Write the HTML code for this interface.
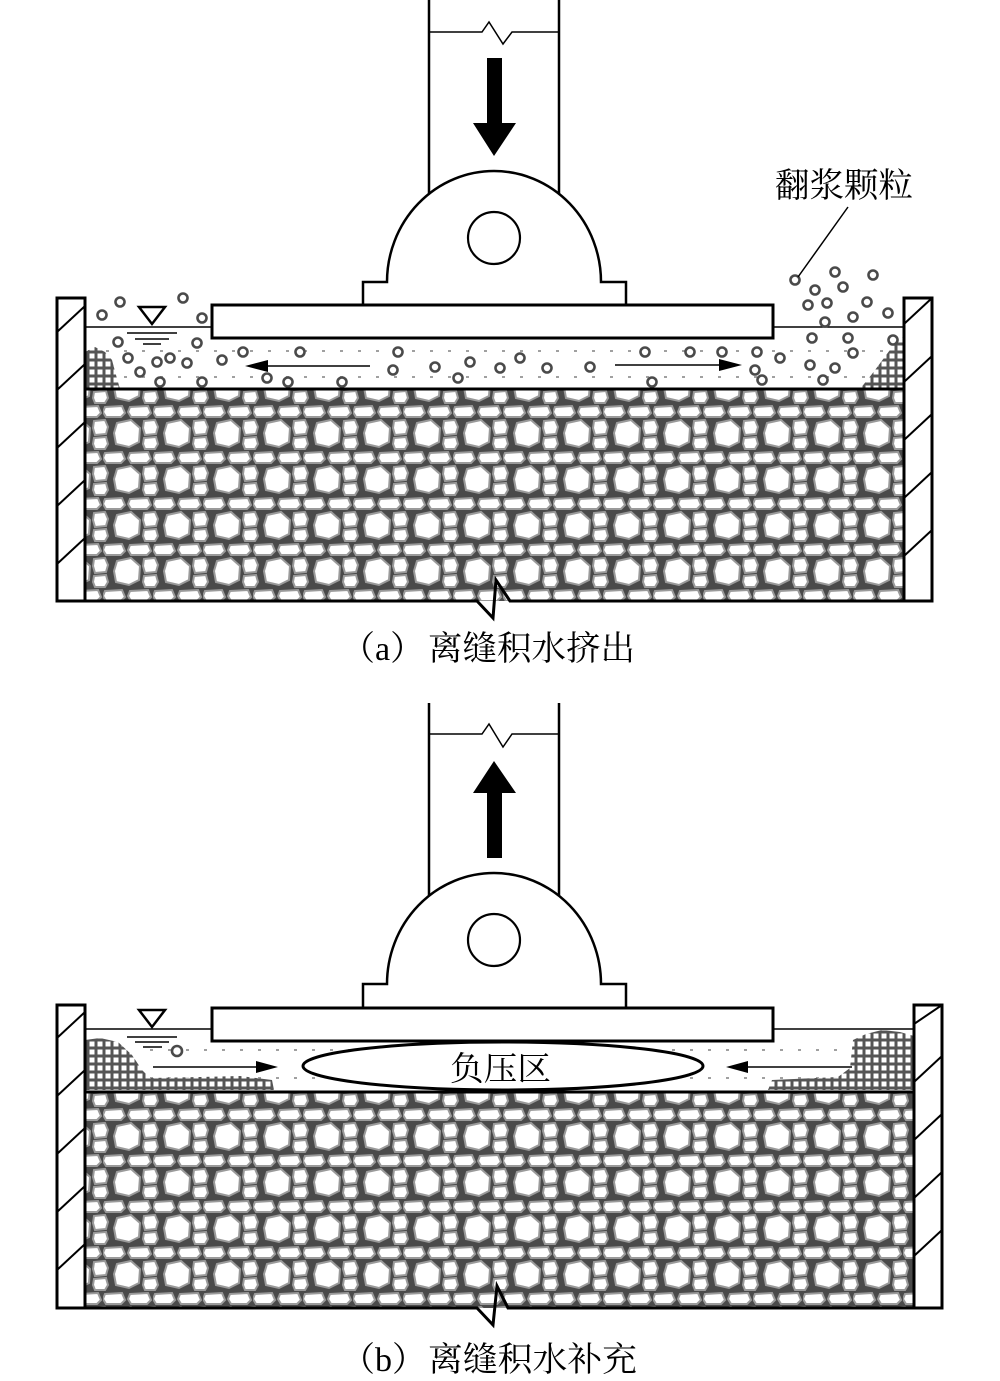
<!DOCTYPE html>
<html><head><meta charset="utf-8"><style>
html,body{margin:0;padding:0;background:#fff;}
svg{display:block;}
</style></head><body>
<svg width="1000" height="1381" viewBox="0 0 1000 1381" xmlns="http://www.w3.org/2000/svg">
<defs>
<pattern id="gra" x="103" y="409" width="50" height="46" patternUnits="userSpaceOnUse">
 <rect width="50" height="46" fill="#4a4a4a"/>
 <g fill="#fff" stroke="#9a9a9a" stroke-width="2">
  <path d="M14,14 L28,11 L37,19 L36,33 L26,38 L13,35 L11,24 Z"/>
  <path d="M2,-2 L19,-3 L22,4 L18,8 L3,8 L0,3 Z"/>
  <path d="M27,-2 L45,-3 L48,4 L44,8 L28,8 L25,3 Z"/>
  <path d="M2,44 L19,43 L22,50 L18,54 L3,54 L0,49 Z"/>
  <path d="M27,44 L45,43 L48,50 L44,54 L28,54 L25,49 Z"/>
  <path d="M41,12 L52,11 L55,18 L53,25 L42,26 L40,19 Z"/>
  <path d="M-9,12 L2,11 L5,18 L3,25 L-8,26 L-10,19 Z"/>
  <path d="M41,29 L53,28 L55,35 L52,40 L42,40 L40,35 Z"/>
  <path d="M-9,29 L3,28 L5,35 L2,40 L-8,40 L-10,35 Z"/>
 </g>
</pattern>
<pattern id="grb" x="103" y="1112" width="50" height="46" patternUnits="userSpaceOnUse">
 <rect width="50" height="46" fill="#4a4a4a"/>
 <g fill="#fff" stroke="#9a9a9a" stroke-width="2">
  <path d="M14,14 L28,11 L37,19 L36,33 L26,38 L13,35 L11,24 Z"/>
  <path d="M2,-2 L19,-3 L22,4 L18,8 L3,8 L0,3 Z"/>
  <path d="M27,-2 L45,-3 L48,4 L44,8 L28,8 L25,3 Z"/>
  <path d="M2,44 L19,43 L22,50 L18,54 L3,54 L0,49 Z"/>
  <path d="M27,44 L45,43 L48,50 L44,54 L28,54 L25,49 Z"/>
  <path d="M41,12 L52,11 L55,18 L53,25 L42,26 L40,19 Z"/>
  <path d="M-9,12 L2,11 L5,18 L3,25 L-8,26 L-10,19 Z"/>
  <path d="M41,29 L53,28 L55,35 L52,40 L42,40 L40,35 Z"/>
  <path d="M-9,29 L3,28 L5,35 L2,40 L-8,40 L-10,35 Z"/>
 </g>
</pattern>
<pattern id="pile" x="0" y="0" width="8" height="8" patternUnits="userSpaceOnUse">
 <rect width="8" height="8" fill="#555"/>
 <rect x="1.5" y="1.5" width="5" height="5" fill="#fff"/>
</pattern>
<clipPath id="cwl"><rect x="57" y="298" width="28" height="303"/></clipPath>
<clipPath id="cwr"><rect x="904" y="298" width="28" height="303"/></clipPath>
<clipPath id="cwlb"><rect x="57" y="1005" width="28" height="303"/></clipPath>
<clipPath id="cwrb"><rect x="914" y="1005" width="28" height="303"/></clipPath>
</defs>

<!-- ================= (a) ================= -->
<g stroke="#000" fill="none">
 <line x1="429" y1="0" x2="429" y2="197" stroke-width="2.5"/>
 <line x1="559" y1="0" x2="559" y2="197" stroke-width="2.5"/>
 <polyline points="430,32 482,32 489,22 503,44 512,32 558,32" stroke-width="1.5"/>
</g>
<polygon points="487,58 502,58 502,123 516,123 494,156 473,123 487,123" fill="#000"/>
<path d="M363,305 L363,282 L387,282 A107,111 0 1 1 601,282 L626,282 L626,305" fill="#fff" stroke="#000" stroke-width="2.5"/>
<circle cx="494" cy="238" r="26" fill="#fff" stroke="#000" stroke-width="2.2"/>
<rect x="212" y="305" width="561" height="33" fill="#fff" stroke="#000" stroke-width="3"/>
<line x1="85" y1="327" x2="212" y2="327" stroke="#000" stroke-width="1.5"/>
<line x1="773" y1="327" x2="904" y2="327" stroke="#000" stroke-width="1.5"/>
<polygon points="139,307 165,307 152,324" fill="#fff" stroke="#000" stroke-width="2.5"/>
<g stroke="#000" stroke-width="1.5">
 <line x1="127" y1="333" x2="177" y2="333"/>
 <line x1="135" y1="339" x2="169" y2="339"/>
 <line x1="143" y1="344" x2="161" y2="344"/>
</g>
<g stroke="#a0a0a0" stroke-width="2" stroke-dasharray="3 15">
 <line x1="88" y1="351" x2="904" y2="351"/>
 <line x1="88" y1="377" x2="904" y2="377"/>
</g>
<path d="M85,352 L95,347 L105,352 L112,360 L116,375 L120,389 L85,389 Z" fill="url(#pile)"/>
<path d="M860,389 L872,374 L884,358 L895,343 L904,336 L904,389 Z" fill="url(#pile)"/>
<g fill="#fff" stroke="#4a4a4a" stroke-width="2.6">
 <circle cx="120" cy="302" r="4.5"/><circle cx="183" cy="298" r="4.5"/><circle cx="102" cy="315" r="4.5"/><circle cx="202" cy="318" r="4.5"/>
 <circle cx="118" cy="342" r="4.5"/><circle cx="197" cy="343" r="4.5"/><circle cx="128" cy="358" r="4.5"/><circle cx="157" cy="362" r="4.5"/>
 <circle cx="170" cy="358" r="4.5"/><circle cx="187" cy="363" r="4.5"/><circle cx="222" cy="360" r="4.5"/><circle cx="243" cy="352" r="4.5"/>
 <circle cx="300" cy="352" r="4.5"/><circle cx="202" cy="382" r="4.5"/><circle cx="160" cy="382" r="4.5"/><circle cx="267" cy="378" r="4.5"/>
 <circle cx="288" cy="382" r="4.5"/><circle cx="342" cy="382" r="4.5"/><circle cx="140" cy="372" r="4.5"/>
 <circle cx="398" cy="352" r="4.5"/><circle cx="393" cy="370" r="4.5"/><circle cx="435" cy="367" r="4.5"/><circle cx="458" cy="378" r="4.5"/>
 <circle cx="470" cy="362" r="4.5"/><circle cx="500" cy="368" r="4.5"/><circle cx="520" cy="358" r="4.5"/><circle cx="547" cy="368" r="4.5"/>
 <circle cx="590" cy="367" r="4.5"/><circle cx="645" cy="352" r="4.5"/><circle cx="652" cy="382" r="4.5"/><circle cx="690" cy="352" r="4.5"/>
 <circle cx="795" cy="280" r="4.5"/><circle cx="835" cy="272" r="4.5"/><circle cx="873" cy="275" r="4.5"/><circle cx="815" cy="290" r="4.5"/>
 <circle cx="843" cy="287" r="4.5"/><circle cx="827" cy="303" r="4.5"/><circle cx="808" cy="305" r="4.5"/><circle cx="867" cy="302" r="4.5"/>
 <circle cx="888" cy="313" r="4.5"/><circle cx="853" cy="317" r="4.5"/><circle cx="825" cy="322" r="4.5"/>
 <circle cx="812" cy="338" r="4.5"/><circle cx="848" cy="338" r="4.5"/><circle cx="893" cy="340" r="4.5"/><circle cx="853" cy="353" r="4.5"/>
 <circle cx="780" cy="358" r="4.5"/><circle cx="757" cy="352" r="4.5"/><circle cx="722" cy="352" r="4.5"/><circle cx="810" cy="365" r="4.5"/>
 <circle cx="835" cy="368" r="4.5"/><circle cx="755" cy="370" r="4.5"/><circle cx="762" cy="380" r="4.5"/><circle cx="823" cy="380" r="4.5"/>
</g>
<g stroke="#000" stroke-width="1.5">
 <line x1="266" y1="366" x2="370" y2="366"/>
 <line x1="615" y1="365" x2="720" y2="365"/>
</g>
<polygon points="245,366 268,360 268,372" fill="#000"/>
<polygon points="742,365 719,359 719,371" fill="#000"/>
<rect x="85" y="389" width="819" height="212" fill="url(#gra)"/>
<line x1="85" y1="389" x2="904" y2="389" stroke="#000" stroke-width="3"/>
<rect x="57" y="298" width="28" height="303" fill="#fff" stroke="#000" stroke-width="3"/>
<rect x="904" y="298" width="28" height="303" fill="#fff" stroke="#000" stroke-width="3"/>
<g stroke="#000" stroke-width="2" clip-path="url(#cwl)">
 <line x1="57" y1="332" x2="85" y2="306"/><line x1="57" y1="390" x2="85" y2="364"/>
 <line x1="57" y1="448" x2="85" y2="422"/><line x1="57" y1="506" x2="85" y2="480"/>
 <line x1="57" y1="564" x2="85" y2="538"/>
</g>
<g stroke="#000" stroke-width="2" clip-path="url(#cwr)">
 <line x1="904" y1="324" x2="932" y2="298"/><line x1="904" y1="382" x2="932" y2="356"/>
 <line x1="904" y1="440" x2="932" y2="414"/><line x1="904" y1="498" x2="932" y2="472"/>
 <line x1="904" y1="556" x2="932" y2="530"/>
</g>
<polygon points="477,602 493,618 495,602" fill="#fff"/>
<polyline points="57,601 477,601 493,618 496,580 510,601 932,601" fill="none" stroke="#000" stroke-width="3"/>
<line x1="848" y1="207" x2="798" y2="277" stroke="#000" stroke-width="1.5"/>
<text x="775" y="197" font-family="'Liberation Serif','Noto Serif CJK SC',serif" font-size="34" textLength="138" lengthAdjust="spacingAndGlyphs">翻浆颗粒</text>
<text x="341" y="660" font-family="'Liberation Serif','Noto Serif CJK SC',serif" font-size="34">（a）</text>
<text x="428" y="660" font-family="'Liberation Serif','Noto Serif CJK SC',serif" font-size="34" textLength="207" lengthAdjust="spacingAndGlyphs">离缝积水挤出</text>

<!-- ================= (b) ================= -->
<g stroke="#000" fill="none">
 <line x1="429" y1="703" x2="429" y2="899" stroke-width="2.5"/>
 <line x1="559" y1="703" x2="559" y2="899" stroke-width="2.5"/>
 <polyline points="430,734 482,734 489,724 503,747 512,734 558,734" stroke-width="1.5"/>
</g>
<polygon points="494,761 516,793 502,793 502,858 487,858 487,793 473,793" fill="#000"/>
<path d="M363,1007 L363,984 L387,984 A107,111 0 1 1 601,984 L626,984 L626,1007" fill="#fff" stroke="#000" stroke-width="2.5"/>
<circle cx="494" cy="940" r="26" fill="#fff" stroke="#000" stroke-width="2.2"/>
<rect x="212" y="1008" width="561" height="33" fill="#fff" stroke="#000" stroke-width="3"/>
<line x1="85" y1="1029" x2="212" y2="1029" stroke="#000" stroke-width="1.5"/>
<line x1="773" y1="1029" x2="914" y2="1029" stroke="#000" stroke-width="1.5"/>
<polygon points="139,1010 165,1010 152,1027" fill="#fff" stroke="#000" stroke-width="2.5"/>
<g stroke="#000" stroke-width="1.5">
 <line x1="127" y1="1037" x2="177" y2="1037"/>
 <line x1="135" y1="1042" x2="169" y2="1042"/>
 <line x1="143" y1="1047" x2="162" y2="1047"/>
</g>
<g stroke="#a0a0a0" stroke-width="2" stroke-dasharray="3 15">
 <line x1="150" y1="1050" x2="860" y2="1050"/>
 <line x1="150" y1="1078" x2="860" y2="1078"/>
</g>
<path d="M85,1040 L100,1038 L118,1042 L132,1055 L142,1070 L150,1078 L200,1077 L240,1076 L272,1080 L274,1090 L85,1090 Z" fill="url(#pile)"/>
<path d="M853,1040 L866,1034 L882,1030 L900,1032 L914,1036 L914,1090 L768,1090 L772,1080 L838,1077 L850,1068 Z" fill="url(#pile)"/>
<g fill="#fff" stroke="#4a4a4a" stroke-width="2.6">
 <circle cx="177" cy="1051" r="5"/>
</g>
<ellipse cx="503" cy="1066" rx="200" ry="24" fill="#fff" stroke="#000" stroke-width="3"/>
<text x="450" y="1080" font-family="'Liberation Serif','Noto Serif CJK SC',serif" font-size="33" textLength="101" lengthAdjust="spacingAndGlyphs">负压区</text>
<g stroke="#000" stroke-width="1.5">
 <line x1="153" y1="1067" x2="258" y2="1067"/>
 <line x1="747" y1="1067" x2="852" y2="1067"/>
</g>
<polygon points="278,1067 256,1061 256,1073" fill="#000"/>
<polygon points="726,1067 748,1061 748,1073" fill="#000"/>
<rect x="85" y="1092" width="829" height="216" fill="url(#grb)"/>
<line x1="85" y1="1092" x2="914" y2="1092" stroke="#000" stroke-width="3"/>
<rect x="57" y="1005" width="28" height="303" fill="#fff" stroke="#000" stroke-width="3"/>
<rect x="914" y="1005" width="28" height="303" fill="#fff" stroke="#000" stroke-width="3"/>
<g stroke="#000" stroke-width="2" clip-path="url(#cwlb)">
 <line x1="57" y1="1038" x2="85" y2="1012"/><line x1="57" y1="1096" x2="85" y2="1070"/>
 <line x1="57" y1="1154" x2="85" y2="1128"/><line x1="57" y1="1212" x2="85" y2="1186"/>
 <line x1="57" y1="1270" x2="85" y2="1244"/>
</g>
<g stroke="#000" stroke-width="2" clip-path="url(#cwrb)">
 <line x1="914" y1="1024" x2="942" y2="1005"/><line x1="914" y1="1082" x2="942" y2="1056"/>
 <line x1="914" y1="1140" x2="942" y2="1114"/><line x1="914" y1="1198" x2="942" y2="1172"/>
 <line x1="914" y1="1256" x2="942" y2="1230"/>
</g>
<polygon points="477,1309 493,1325 495,1309" fill="#fff"/>
<polyline points="57,1308 477,1308 493,1325 497,1286 508,1308 942,1308" fill="none" stroke="#000" stroke-width="3"/>
<text x="341" y="1371" font-family="'Liberation Serif','Noto Serif CJK SC',serif" font-size="34">（b）</text>
<text x="428" y="1371" font-family="'Liberation Serif','Noto Serif CJK SC',serif" font-size="34" textLength="209" lengthAdjust="spacingAndGlyphs">离缝积水补充</text>
</svg>
</body></html>
